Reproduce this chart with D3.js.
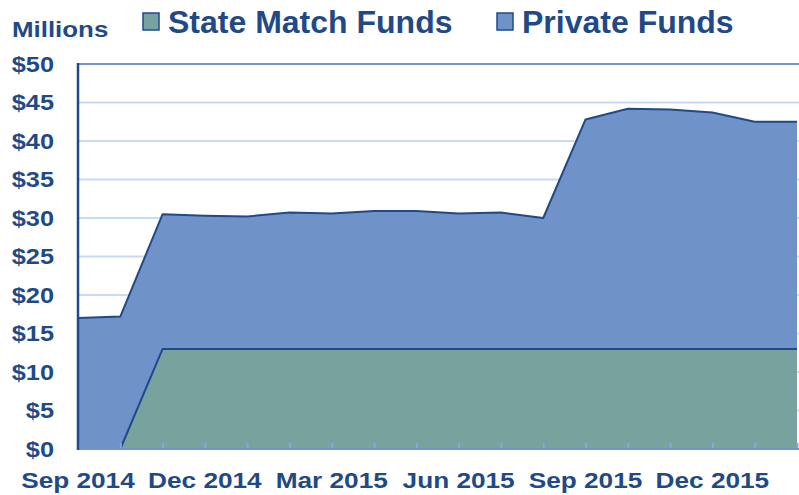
<!DOCTYPE html>
<html>
<head>
<meta charset="utf-8">
<script src="https://cdn.jsdelivr.net/npm/d3@7"></script>
<style>
  body { margin: 0; background: #fff; }
  svg { display: block; font-family: "Liberation Sans", Arial, sans-serif; font-weight: bold; }
</style>
</head>
<body>
<svg id="chart" width="799" height="495"></svg>
<script>
// months on the date axis
const months = ['Sep 2014', 'Oct 2014', 'Nov 2014', 'Dec 2014', 'Jan 2015', 'Feb 2015',
	'Mar 2015', 'Apr 2015', 'May 2015', 'Jun 2015', 'Jul 2015', 'Aug 2015',
	'Sep 2015', 'Oct 2015', 'Nov 2015', 'Dec 2015', 'Jan 2016', 'Feb 2016'];
const monthLabels = ['Sep 2014', 'Dec 2014', 'Mar 2015', 'Jun 2015', 'Sep 2015', 'Dec 2015'];

// $ millions
const stateMatch = [0, 0, 13, 13, 13, 13, 13, 13, 13, 13, 13, 13, 13, 13, 13, 13, 13, 13];
const privateFunds = [17.0, 17.2, 17.5, 17.3, 17.2, 17.7, 17.6, 17.9, 17.9, 17.6, 17.7, 17.0,
	29.8, 31.2, 31.1, 30.7, 29.5, 29.5];
const yTicks = [0, 5, 10, 15, 20, 25, 30, 35, 40, 45, 50];

const seriesNames = ['State Match Funds', 'Private Funds'];
const fills = ['#78a29d', '#6f93c9'];
const textColor = '#1f4a87';
const strokeDark = '#1f4a8a';

const svg = d3.select('#chart');
const plotLeft = 78, plotRight = 797, plotTop = 64, plotBottom = 449;

const x = d3.scalePoint().domain(months).range([plotLeft, plotRight]);
const y = d3.scaleLinear().domain([0, 50]).range([plotBottom, plotTop]);

const table = months.map((m, i) => ({ month: m, state: stateMatch[i], priv: privateFunds[i] }));
const stack = d3.stack().keys(['state', 'priv'])(table);

// widen small labels a bit, the original renders them wider than Liberation does
function stretch(sel, factor) {
	sel.each(function() {
		const w = this.getComputedTextLength();
		d3.select(this).attr('textLength', w * factor).attr('lengthAdjust', 'spacingAndGlyphs');
	});
}

// gridlines
svg.append('g')
	.selectAll('line')
	.data(yTicks.filter(t => t > 0 && t < 50))
	.join('line')
	.attr('x1', plotLeft).attr('x2', 799)
	.attr('y1', d => y(d)).attr('y2', d => y(d))
	.attr('stroke', '#c8dbf6')
	.attr('stroke-width', 2);

// stacked areas
const area = d3.area()
	.x(d => x(d.data.month))
	.y0(d => y(d[0]))
	.y1(d => y(d[1]));
const topLine = d3.line()
	.x(d => x(d.data.month))
	.y(d => y(d[1]));

svg.append('g')
	.selectAll('path')
	.data(stack)
	.join('path')
	.attr('d', area)
	.attr('fill', (d, i) => fills[i]);

svg.append('g')
	.selectAll('path')
	.data(stack)
	.join('path')
	.attr('d', topLine)
	.attr('fill', 'none')
	.attr('stroke', strokeDark)
	.attr('stroke-width', 2)
	.attr('stroke-linejoin', 'round');

// top border at $50
svg.append('line')
	.attr('x1', plotLeft).attr('x2', 799)
	.attr('y1', y(50)).attr('y2', y(50))
	.attr('stroke', '#7094cc').attr('stroke-width', 2);

// x axis line and month ticks
const xAxis = d3.axisBottom(x).tickSize(-6).tickFormat('');
const gx = svg.append('g').attr('transform', `translate(0,${plotBottom})`).call(xAxis);
gx.select('.domain').remove();
gx.selectAll('.tick line').attr('stroke', '#8aa6d6').attr('stroke-width', 2);
svg.append('line')
	.attr('x1', plotLeft).attr('x2', 799)
	.attr('y1', plotBottom).attr('y2', plotBottom)
	.attr('stroke', '#7094cc').attr('stroke-width', 2);

// left axis line
svg.append('line')
	.attr('x1', plotLeft).attr('x2', plotLeft)
	.attr('y1', plotTop - 1).attr('y2', plotBottom + 1)
	.attr('stroke', strokeDark).attr('stroke-width', 2.5);

// y labels
svg.append('g')
	.selectAll('text')
	.data(yTicks)
	.join('text')
	.attr('x', 54)
	.attr('y', d => y(d))
	.attr('dy', '0.36em')
	.attr('text-anchor', 'end')
	.attr('font-size', 22)
	.attr('fill', textColor)
	.text(d => '$' + d)
	.call(stretch, 1.15);

// x labels
svg.append('g')
	.selectAll('text')
	.data(monthLabels)
	.join('text')
	.attr('x', d => x(d))
	.attr('y', 488)
	.attr('text-anchor', 'middle')
	.attr('font-size', 22)
	.attr('fill', textColor)
	.text(d => d)
	.call(stretch, 1.19);

svg.append('text')
	.attr('x', 12).attr('y', 37)
	.attr('font-size', 22.5)
	.attr('fill', textColor)
	.text('Millions')
	.call(stretch, 1.15);

// legend
const legendX = [143, 497];
const lg = svg.append('g')
	.selectAll('g')
	.data(seriesNames)
	.join('g')
	.attr('transform', (d, i) => `translate(${legendX[i]},0)`);
lg.append('rect')
	.attr('x', 0).attr('y', 13)
	.attr('width', 16).attr('height', 17)
	.attr('fill', (d, i) => fills[i])
	.attr('stroke', strokeDark).attr('stroke-width', 1.5);
lg.append('text')
	.attr('x', 25).attr('y', 33)
	.attr('font-size', 32)
	.attr('fill', textColor)
	.text(d => d);
</script>
</body>
</html>
